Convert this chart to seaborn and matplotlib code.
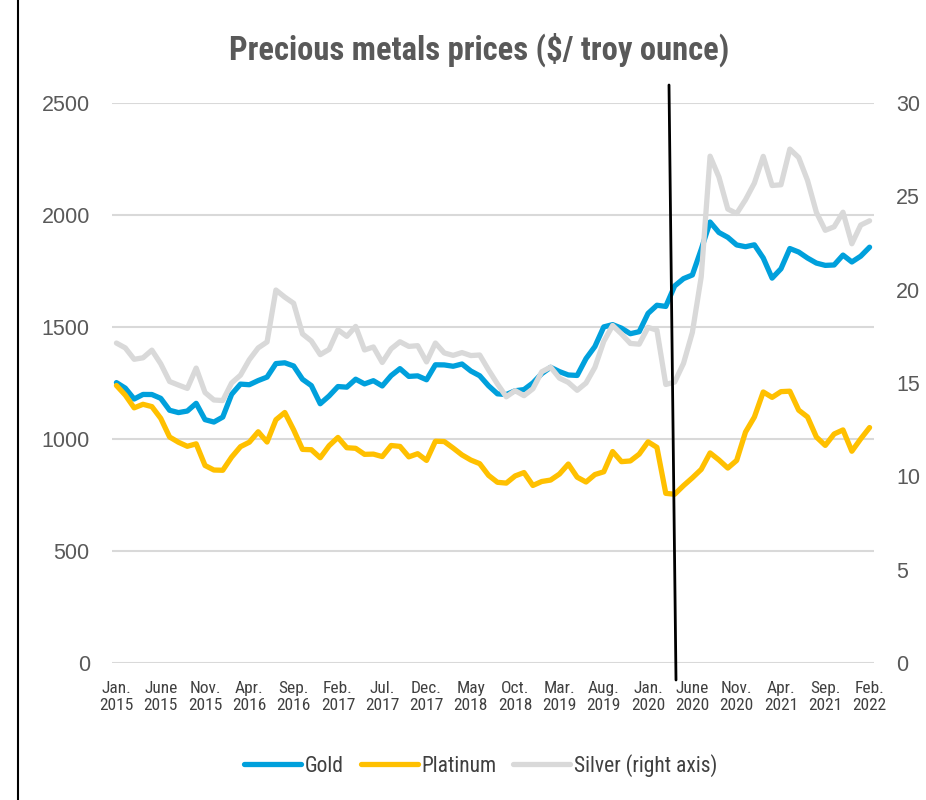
import pandas as pd
import matplotlib.pyplot as plt
import seaborn as sns
from matplotlib.lines import Line2D

# monthly averages, Jan 2015 - Feb 2022
gold = [1251.8, 1227.1, 1178.6, 1198.9, 1198.6, 1181.5, 1128.3, 1117.9, 1124.8, 1159.3, 1086.4, 1075.7,
        1097.9, 1199.5, 1245.1, 1242.3, 1260.9, 1276.4, 1336.7, 1340.2, 1326.0, 1266.6, 1238.4, 1157.4,
        1192.1, 1234.2, 1231.4, 1266.9, 1246.0, 1260.3, 1236.8, 1283.0, 1314.1, 1279.5, 1281.9, 1264.5,
        1331.3, 1330.7, 1324.7, 1334.8, 1303.5, 1282.3, 1237.5, 1201.7, 1198.4, 1215.4, 1220.7, 1250.4,
        1291.8, 1320.1, 1300.9, 1285.9, 1283.7, 1359.0, 1412.9, 1500.4, 1510.6, 1494.8, 1470.0, 1479.1,
        1560.7, 1597.1, 1591.9, 1683.2, 1715.9, 1732.2, 1846.5, 1968.6, 1921.9, 1900.3, 1866.3, 1858.4,
        1867.0, 1808.2, 1718.2, 1760.0, 1850.3, 1834.6, 1807.8, 1785.3, 1775.1, 1776.9, 1821.1, 1790.3,
        1816.2, 1856.3]
platinum = [1238.9, 1195.9, 1139.1, 1154.9, 1144.6, 1092.3, 1008.9, 985.5, 967.4, 978.4, 881.8, 861.5,
            860.4, 919.1, 965.8, 985.7, 1032.3, 986.5, 1085.9, 1118.4, 1040.8, 953.6, 952.1, 916.3,
            969.9, 1007.0, 961.1, 958.4, 931.5, 932.6, 921.5, 971.0, 967.0, 920.3, 934.4, 904.4,
            990.1, 988.7, 959.7, 929.0, 906.0, 889.8, 837.7, 806.7, 803.1, 835.2, 850.2, 792.6,
            810.3, 816.7, 843.6, 888.2, 829.4, 807.9, 841.3, 853.6, 944.0, 898.9, 902.0, 932.5,
            987.4, 962.7, 757.4, 753.3, 791.8, 826.7, 864.4, 937.9, 906.4, 870.3, 904.4, 1031.1,
            1098.1, 1210.0, 1185.8, 1211.5, 1213.4, 1128.8, 1098.3, 1008.7, 971.4, 1022.4, 1040.5, 945.4,
            1000.6, 1051.1]
silver = [17.14, 16.88, 16.27, 16.35, 16.76, 16.03, 15.08, 14.89, 14.71, 15.80, 14.49, 14.09,
          14.06, 15.00, 15.42, 16.25, 16.88, 17.20, 19.98, 19.60, 19.27, 17.63, 17.25, 16.52,
          16.80, 17.85, 17.50, 18.03, 16.77, 16.93, 16.10, 16.83, 17.21, 16.96, 17.00, 16.13,
          17.14, 16.61, 16.48, 16.63, 16.47, 16.50, 15.70, 14.95, 14.26, 14.59, 14.32, 14.69,
          15.60, 15.85, 15.26, 15.03, 14.61, 15.00, 15.84, 17.23, 18.08, 17.63, 17.12, 17.08,
          17.98, 17.83, 14.92, 15.05, 16.05, 17.71, 20.69, 27.15, 26.03, 24.32, 24.08, 24.82,
          25.71, 27.14, 25.58, 25.62, 27.53, 27.08, 25.85, 24.14, 23.18, 23.37, 24.15, 22.46,
          23.46, 23.69]
tick_labels = ["Jan.\n2015", "June\n2015", "Nov.\n2015", "Apr.\n2016", "Sep.\n2016", "Feb.\n2017",
               "Jul.\n2017", "Dec.\n2017", "May\n2018", "Oct.\n2018", "Mar.\n2019", "Aug.\n2019",
               "Jan.\n2020", "June\n2020", "Nov.\n2020", "Apr.\n2021", "Sep.\n2021", "Feb.\n2022"]

df = pd.DataFrame({"month": range(len(gold)), "Gold": gold, "Platinum": platinum, "Silver": silver})

sns.set_style("white")
narrow = ["Roboto Condensed", "DejaVu Sans"]
plt.rcParams["font.family"] = ["Liberation Sans", "DejaVu Sans"]

fig = plt.figure(figsize=(9.26, 8), dpi=100)
ax = fig.add_axes([112 / 926, 137 / 800, 762 / 926, 560 / 800])
ax2 = ax.twinx()

sns.lineplot(data=df, x="month", y="Gold", ax=ax, color="#00a0dc", lw=3.8, label="Gold", legend=False)
sns.lineplot(data=df, x="month", y="Platinum", ax=ax, color="#ffc000", lw=3.8, label="Platinum", legend=False)
sns.lineplot(data=df, x="month", y="Silver", ax=ax2, color="#d9d9d9", lw=3.8,
             label="Silver (right axis)", legend=False)

ax.set_xlim(-0.5, len(gold) - 0.5)
ax.set_ylim(0, 2500)
ax2.set_ylim(0, 30)
ax.set_yticks(range(0, 2501, 500))
ax2.set_yticks(range(0, 31, 5))
ax.yaxis.grid(True, color="#d9d9d9", lw=1.5)
ax.set_xticks(range(0, len(gold), 5))
ax.set_xticklabels(tick_labels, family=narrow, stretch="condensed", fontsize=12.5,
                   color="#404040", linespacing=1.2)
ax.set_xlabel("")
ax.set_ylabel("")
ax2.set_ylabel("")
ax.tick_params(axis="y", length=0, pad=16, labelsize=15.5, labelcolor="#595959")
ax2.tick_params(axis="y", length=0, pad=16, labelsize=15.5, labelcolor="#595959")
ax.tick_params(axis="x", length=0, pad=13)
for a in (ax, ax2):
    for s in a.spines.values():
        s.set_visible(False)

fig.suptitle("Precious metals prices ($/ troy ounce)", x=0.518, y=1 - 50 / 800, va="center", fontsize=23.5,
             fontweight="bold", stretch="condensed", color="#595959", family=narrow)

handles = ax.get_lines()[:2] + ax2.get_lines()[:1]
fig.legend(handles, ["Gold", "Platinum", "Silver (right axis)"], loc="center", bbox_to_anchor=(0.519, 0.043),
           ncol=3, frameon=False, handlelength=2.65, handletextpad=0.15, columnspacing=0.8,
           prop={"family": narrow, "size": 15.5, "stretch": "condensed"}, labelcolor="#404040")

# frame edge and marker line
fig.add_artist(Line2D([18 / 926, 18 / 926], [0, 1], transform=fig.transFigure, color="black", lw=1.5))
fig.add_artist(Line2D([669 / 926, 676 / 926], [1 - 85 / 800, 1 - 680 / 800],
                      transform=fig.transFigure, color="black", lw=2))

fig.savefig("out.png", dpi=100)
